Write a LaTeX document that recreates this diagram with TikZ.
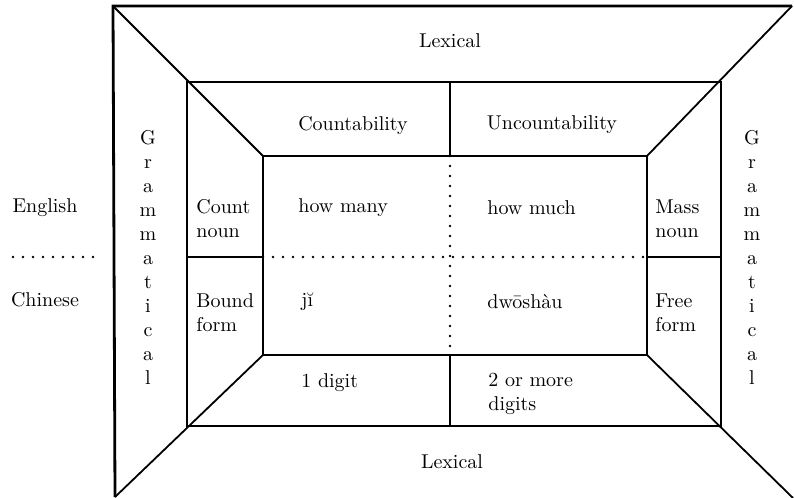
\documentclass[tikz,border=0pt]{standalone}
\usepackage{tikz}
\usetikzlibrary{positioning}

\begin{document}
\begin{tikzpicture}[
  x=0.5pt, y=-0.5pt,
  frame/.style={line width=0.9pt, line join=miter},
  outer/.style={line width=1.4pt},
  dotline/.style={line width=1.3pt, line cap=round, dash pattern=on 0pt off 5pt},
  lbl/.style={font=\normalsize, inner sep=0pt},
  cell/.style={lbl, anchor=west, align=left},
  vert/.style={lbl, align=center}
]
  \useasboundingbox (0,0) rectangle (794,498);

  \coordinate (oTL) at (113,6);
  \coordinate (oTR) at (792,6);
  \coordinate (oBL) at (115,497);
  \coordinate (oBR) at (793,498);
  \coordinate (mTL) at (187,82);
  \coordinate (mTR) at (721,82);
  \coordinate (mBL) at (187,426);
  \coordinate (mBR) at (721,426);
  \coordinate (iTL) at (263,156);
  \coordinate (iTR) at (647,156);
  \coordinate (iBL) at (263,355);
  \coordinate (iBR) at (647,355);
  \coordinate (mTop) at (450,82);
  \coordinate (iTop) at (450,156);
  \coordinate (iBot) at (450,355);
  \coordinate (mBot) at (450,426);
  \coordinate (mLeft) at (187,257);
  \coordinate (iLeft) at (263,257);
  \coordinate (iRight) at (647,257);
  \coordinate (mRight) at (721,257);
  \coordinate (sepA) at (13,257);
  \coordinate (sepB) at (93,257);

  \draw[outer] (oBL) -- (oTL) -- (oTR);
  \draw[frame] (mTL) rectangle (mBR);
  \draw[frame] (iTL) rectangle (iBR);
  \draw[frame] (oTL) -- (iTL);
  \draw[frame] (oTR) -- (iTR);
  \draw[frame] (iBL) -- (oBL);
  \draw[frame] (iBR) -- (oBR);
  \draw[frame] (mTop) -- (iTop);
  \draw[frame] (iBot) -- (mBot);
  \draw[frame] (mLeft) -- (iLeft);
  \draw[frame] (iRight) -- (mRight);
  \draw[dotline] (iTop) -- (iBot);
  \draw[dotline] (iLeft) -- (iRight);
  \draw[dotline] (sepA) -- (sepB);

  \node[lbl] (lexTop) at (450,41) {Lexical};
  \node[lbl] (lexBot) at (452,462) {Lexical};
  \node[lbl] (count) at (353,125) {Countability};
  \node[lbl] (uncount) at (552,125) {Uncountability};
  \node[vert] (gramL) at (148,257) {G\\r\\a\\m\\m\\a\\t\\i\\c\\a\\l};
  \node[vert] (gramR) at (752,257) {G\\r\\a\\m\\m\\a\\t\\i\\c\\a\\l};
  \node[lbl] (eng) at (45,208) {English};
  \node[lbl] (chi) at (45,300) {Chinese};

  \node[cell] (cntNoun) at (196,219) {Count\\noun};
  \node[cell] (massNoun) at (655,219) {Mass\\noun};
  \node[cell] (boundForm) at (196,313) {Bound\\form};
  \node[cell] (freeForm) at (655,313) {Free\\form};

  \node[cell] (howMany) at (298,208) {how many};
  \node[cell] (howMuch) at (487,208) {how much};
  \node[cell] (ji) at (301,302) {jĭ};
  \node[cell] (dwo) at (487,302) {dwōshàu};
  \node[cell] (oneDig) at (301,383) {1 digit};
  \node[cell] (moreDig) at (488,394) {2 or more\\digits};
\end{tikzpicture}
\end{document}
